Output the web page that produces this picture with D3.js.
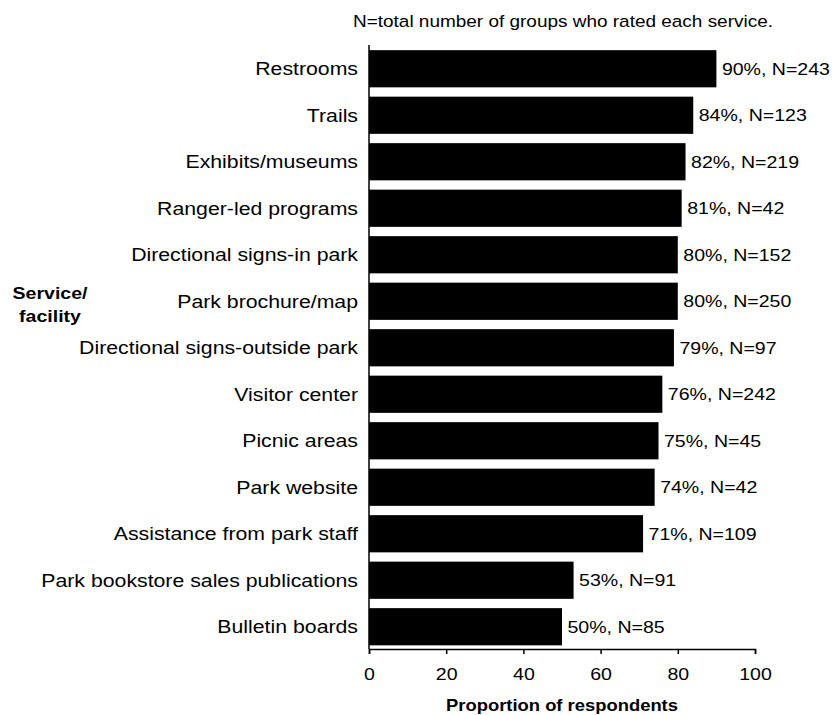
<!DOCTYPE html>
<html>
<head>
<meta charset="utf-8">
<script src="https://cdn.jsdelivr.net/npm/d3@7"></script>
<style>
  body { margin: 0; background: #fff; }
  text { font-family: "Liberation Sans", Arial, sans-serif; fill: #000; }
</style>
</head>
<body>
<div id="chart"></div>
<script>
// chart values
var categories = ['Restrooms', 'Trails', 'Exhibits/museums', 'Ranger-led programs',
  'Directional signs-in park', 'Park brochure/map', 'Directional signs-outside park',
  'Visitor center', 'Picnic areas', 'Park website', 'Assistance from park staff',
  'Park bookstore sales publications', 'Bulletin boards'];
var percents = [90, 84, 82, 81, 80, 80, 79, 76, 75, 74, 71, 53, 50];
var counts = [243, 123, 219, 42, 152, 250, 97, 242, 45, 42, 109, 91, 85];
var xTicks = [0, 20, 40, 60, 80, 100];

var W = 834, H = 715;
var stretch = 1.15; // the source picture is a bit wider than tall

var data = categories.map(function(c, i) {
  return { name: c, value: percents[i], n: counts[i] };
});

var svg = d3.select('#chart').append('svg')
  .attr('width', W)
  .attr('height', H);

var x = d3.scaleLinear().domain([0, 100]).range([369, 755]);
var y = d3.scaleBand().domain(categories).range([45.5, 650])
  .paddingInner(0.2).paddingOuter(0.1);

// note at top
svg.append('text')
  .attr('transform', 'translate(353,27) scale(' + stretch + ',1)')
  .style('font-size', '16.5px')
  .text('N=total number of groups who rated each service.');

// bars
svg.selectAll('.bar')
  .data(data)
  .enter()
  .append('rect')
  .attr('class', 'bar')
  .attr('x', x(0))
  .attr('y', function(d) { return y(d.name); })
  .attr('width', function(d) { return x(d.value) - x(0); })
  .attr('height', y.bandwidth())
  .attr('fill', '#000');

// value labels
svg.selectAll('.val')
  .data(data)
  .enter()
  .append('text')
  .attr('class', 'val')
  .attr('transform', function(d) {
    return 'translate(' + (x(d.value) + 5.5) + ',' + (y(d.name) + y.bandwidth() / 2) + ') scale(' + stretch + ',1)';
  })
  .attr('dy', '.35em')
  .style('font-size', '17px')
  .text(function(d) { return d.value + '%, N=' + d.n; });

// category labels
svg.selectAll('.cat')
  .data(data)
  .enter()
  .append('text')
  .attr('class', 'cat')
  .attr('transform', function(d) {
    return 'translate(' + (x(0) - 11) + ',' + (y(d.name) + y.bandwidth() / 2) + ') scale(' + stretch + ',1)';
  })
  .attr('dy', '.35em')
  .attr('text-anchor', 'end')
  .style('font-size', '18.5px')
  .text(function(d) { return d.name; });

// y axis line (no ticks)
svg.append('line')
  .attr('x1', x(0)).attr('x2', x(0))
  .attr('y1', 45).attr('y2', 649)
  .attr('stroke', '#000')
  .attr('stroke-width', 1.5);

// x axis
var xAxis = svg.append('g')
  .attr('transform', 'translate(0,649)')
  .call(d3.axisBottom(x).tickValues(xTicks).tickSize(5).tickSizeOuter(5).tickPadding(14));
xAxis.select('.domain').attr('stroke', '#000').attr('stroke-width', 1.5);
xAxis.selectAll('.tick line').attr('stroke', '#000').attr('stroke-width', 1.5);
xAxis.selectAll('.tick text')
  .attr('transform', 'scale(' + stretch + ',1)')
  .style('font-family', '"Liberation Sans", Arial, sans-serif')
  .style('font-size', '17px')
  .attr('fill', '#000');

// axis titles
svg.append('text')
  .attr('transform', 'translate(' + ((x(0) + x(100)) / 2) + ',711) scale(' + stretch + ',1)')
  .attr('text-anchor', 'middle')
  .style('font-size', '16px')
  .style('font-weight', 'bold')
  .text('Proportion of respondents');

var yTitle = svg.append('text')
  .attr('transform', 'translate(50,299) scale(' + stretch + ',1)')
  .attr('text-anchor', 'middle')
  .style('font-size', '17px')
  .style('font-weight', 'bold');
yTitle.append('tspan').attr('x', 0).attr('y', 0).text('Service/');
yTitle.append('tspan').attr('x', 0).attr('y', 23).text('facility');
</script>
</body>
</html>
